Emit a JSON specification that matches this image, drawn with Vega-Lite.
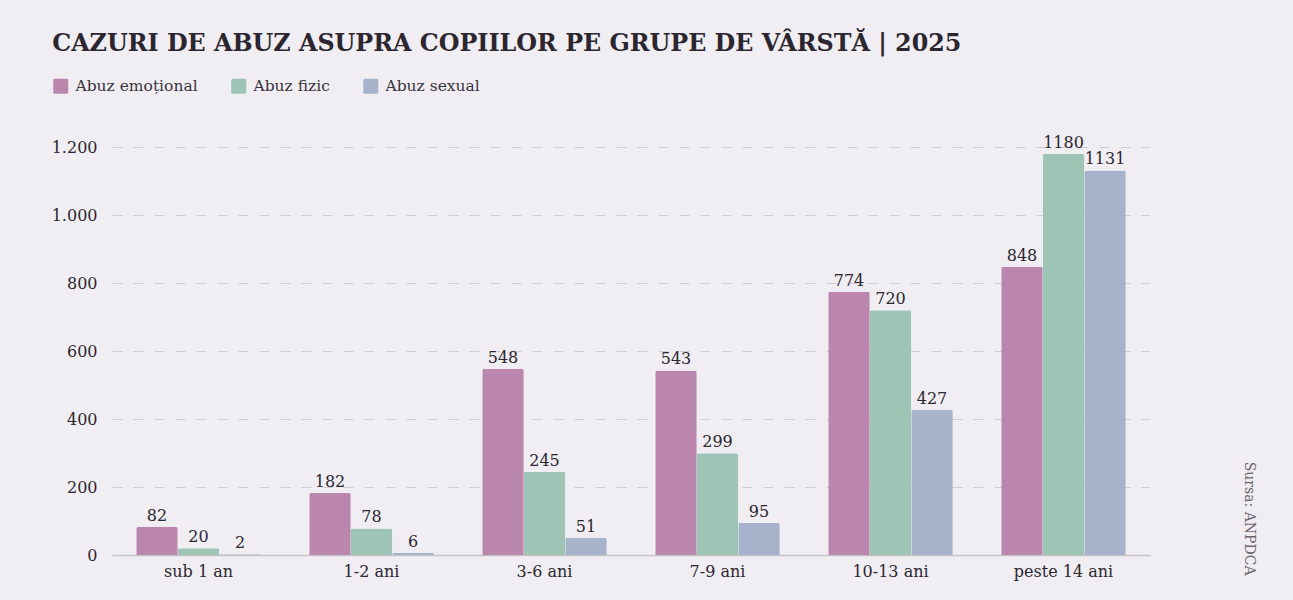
{
  "$schema": "https://vega.github.io/schema/vega-lite/v6.json",
  "width": 1038,
  "height": 408,
  "autosize": {"type": "none"},
  "padding": {"left": 112, "top": 147, "right": 143, "bottom": 45},
  "background": "#f0eef2",
  "title": {
    "text": "CAZURI DE ABUZ ASUPRA COPIILOR PE GRUPE DE VÂRSTĂ | 2025",
    "anchor": "start",
    "frame": "bounds",
    "font": "DejaVu Serif",
    "fontSize": 23.8,
    "fontWeight": "bold",
    "color": "#2b2630",
    "offset": 22,
    "dx": 1
  },
  "config": {
    "view": {"stroke": null},
    "font": "DejaVu Serif"
  },
  "data": {
    "values": [
      {"grupa": "sub 1 an", "tip": "Abuz emoțional", "cazuri": 82},
      {"grupa": "sub 1 an", "tip": "Abuz fizic", "cazuri": 20},
      {"grupa": "sub 1 an", "tip": "Abuz sexual", "cazuri": 2},
      {"grupa": "1-2 ani", "tip": "Abuz emoțional", "cazuri": 182},
      {"grupa": "1-2 ani", "tip": "Abuz fizic", "cazuri": 78},
      {"grupa": "1-2 ani", "tip": "Abuz sexual", "cazuri": 6},
      {"grupa": "3-6 ani", "tip": "Abuz emoțional", "cazuri": 548},
      {"grupa": "3-6 ani", "tip": "Abuz fizic", "cazuri": 245},
      {"grupa": "3-6 ani", "tip": "Abuz sexual", "cazuri": 51},
      {"grupa": "7-9 ani", "tip": "Abuz emoțional", "cazuri": 543},
      {"grupa": "7-9 ani", "tip": "Abuz fizic", "cazuri": 299},
      {"grupa": "7-9 ani", "tip": "Abuz sexual", "cazuri": 95},
      {"grupa": "10-13 ani", "tip": "Abuz emoțional", "cazuri": 774},
      {"grupa": "10-13 ani", "tip": "Abuz fizic", "cazuri": 720},
      {"grupa": "10-13 ani", "tip": "Abuz sexual", "cazuri": 427},
      {"grupa": "peste 14 ani", "tip": "Abuz emoțional", "cazuri": 848},
      {"grupa": "peste 14 ani", "tip": "Abuz fizic", "cazuri": 1180},
      {"grupa": "peste 14 ani", "tip": "Abuz sexual", "cazuri": 1131}
    ]
  },
  "encoding": {
    "x": {
      "field": "grupa",
      "type": "nominal",
      "sort": ["sub 1 an", "1-2 ani", "3-6 ani", "7-9 ani", "10-13 ani", "peste 14 ani"],
      "scale": {"paddingInner": 0.28, "paddingOuter": 0.14},
      "axis": {
        "title": null,
        "labelAngle": 0,
        "labelFont": "DejaVu Serif",
        "labelFontSize": 16,
        "labelColor": "#2b2630",
        "labelPadding": 8,
        "ticks": false,
        "domainColor": "#c5c2c8",
        "domainWidth": 1.5
      }
    },
    "xOffset": {
      "field": "tip",
      "type": "nominal",
      "sort": ["Abuz emoțional", "Abuz fizic", "Abuz sexual"]
    }
  },
  "layer": [
    {
      "mark": {"type": "bar", "cornerRadiusEnd": 2},
      "encoding": {
        "y": {
          "field": "cazuri",
          "type": "quantitative",
          "scale": {"domain": [0, 1200], "nice": false},
          "axis": {
            "title": null,
            "values": [0, 200, 400, 600, 800, 1000, 1200],
            "labelExpr": "replace(format(datum.value, ','), ',', '.')",
            "labelFont": "DejaVu Serif",
            "labelFontSize": 16,
            "labelColor": "#2b2630",
            "labelPadding": 15,
            "ticks": false,
            "domain": false,
            "grid": true,
            "gridDash": [10, 11],
            "gridColor": "#cfccd2",
            "gridWidth": 1
          }
        },
        "color": {
          "field": "tip",
          "type": "nominal",
          "sort": ["Abuz emoțional", "Abuz fizic", "Abuz sexual"],
          "scale": {
            "domain": ["Abuz emoțional", "Abuz fizic", "Abuz sexual"],
            "range": ["#bb86ad", "#9dc4b5", "#a7b3cb"]
          },
          "legend": {
            "title": null,
            "orient": "none",
            "legendX": -59,
            "legendY": -69,
            "direction": "horizontal",
            "symbolType": "M-0.8,-1H0.8Q1,-1 1,-0.8V0.8Q1,1 0.8,1H-0.8Q-1,1 -1,0.8V-0.8Q-1,-1 -0.8,-1Z",
            "symbolSize": 225,
            "symbolStrokeWidth": 0,
            "symbolOpacity": 1,
            "labelFont": "DejaVu Serif",
            "labelFontSize": 15.5,
            "labelColor": "#3a3340",
            "labelOffset": 7,
            "columnPadding": 33
          }
        }
      }
    },
    {
      "mark": {
        "type": "text",
        "baseline": "bottom",
        "dy": -3,
        "font": "DejaVu Serif",
        "fontSize": 16,
        "color": "#2b2630"
      },
      "encoding": {
        "y": {
          "field": "cazuri",
          "type": "quantitative",
          "scale": {"domain": [0, 1200], "nice": false},
          "axis": {
            "orient": "right",
            "labels": false,
            "ticks": false,
            "domain": false,
            "grid": false,
            "title": "Sursa: ANPDCA",
            "titleAngle": 90,
            "titleAnchor": "start",
            "titleAlign": "right",
            "titleBaseline": "middle",
            "titleY": 428,
            "titlePadding": 98,
            "titleFont": "DejaVu Serif",
            "titleFontSize": 14,
            "titleFontWeight": "normal",
            "titleColor": "#6b6570"
          }
        },
        "text": {"field": "cazuri", "type": "quantitative", "format": "d"}
      }
    }
  ],
  "resolve": {"scale": {"y": "independent"}}
}
